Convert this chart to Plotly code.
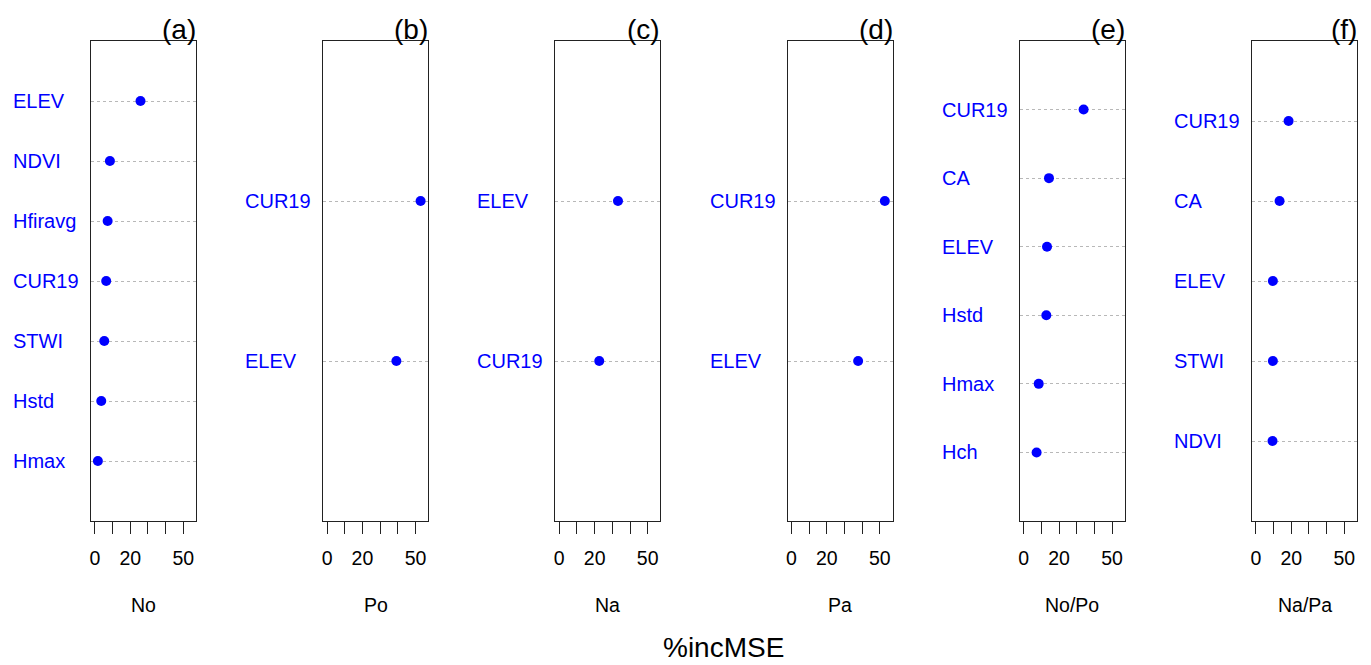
import plotly.graph_objects as go

W, H = 1371, 665

panel_tags = ["(a)", "(b)", "(c)", "(d)", "(e)", "(f)"]
panel_groups = ["No", "Po", "Na", "Pa", "No/Po", "Na/Pa"]

# variables listed top to bottom, %incMSE values
vars_a = ["ELEV", "NDVI", "Hfiravg", "CUR19", "STWI", "Hstd", "Hmax"]
vals_a = [25.8, 8.5, 7.2, 6.4, 5.3, 3.6, 1.7]
vars_b = ["CUR19", "ELEV"]
vals_b = [52.9, 39.2]
vars_c = ["ELEV", "CUR19"]
vals_c = [33.2, 22.6]
vars_d = ["CUR19", "ELEV"]
vals_d = [52.8, 37.7]
vars_e = ["CUR19", "CA", "ELEV", "Hstd", "Hmax", "Hch"]
vals_e = [33.9, 14.3, 13.2, 12.8, 8.5, 7.3]
vars_f = ["CUR19", "CA", "ELEV", "STWI", "NDVI"]
vals_f = [18.5, 13.4, 9.6, 9.6, 9.4]

x_ticks = [0, 10, 20, 30, 40, 50]
x_ticktext = ["0", "", "20", "", "", "50"]
x_range = [-2.2, 57.2]
overall_title = "%incMSE"

panels = [(vars_a, vals_a), (vars_b, vals_b), (vars_c, vals_c),
          (vars_d, vals_d), (vars_e, vals_e), (vars_f, vals_f)]

FONT = "Liberation Sans, Arial, sans-serif"
BLUE = "#0000FF"
LINE = "#222222"

box_left0 = 91.0
box_step = 232.2
box_w = 105.0
box_top, box_bot = 41.0, 521.0

fig = go.Figure()
annotations = []
layout_axes = {}

def px2x(px):
    return px / W

def py2y(py):
    return 1 - py / H

for i, (names, vals) in enumerate(panels):
    n = len(names)
    ys = [n - k for k in range(n)]
    L = box_left0 + box_step * i
    xa = "x" if i == 0 else f"x{i+1}"
    ya = "y" if i == 0 else f"y{i+1}"
    xkey = "xaxis" if i == 0 else f"xaxis{i+1}"
    ykey = "yaxis" if i == 0 else f"yaxis{i+1}"
    fig.add_trace(go.Scatter(
        x=vals, y=ys, mode="markers", xaxis=xa, yaxis=ya,
        marker=dict(color=BLUE, size=10, line=dict(width=0)),
        showlegend=False, hoverinfo="x+text", text=names,
    ))
    layout_axes[xkey] = dict(
        domain=[px2x(L), px2x(L + box_w)], anchor=ya, range=x_range,
        tickmode="array", tickvals=x_ticks, ticktext=x_ticktext,
        ticks="outside", ticklen=12, tickwidth=1, tickcolor=LINE,
        showline=True, linecolor=LINE, linewidth=1.3, mirror=True,
        showgrid=False, zeroline=False, ticklabelstandoff=7,
        automargin=False,
        tickfont=dict(family=FONT, size=19.5, color="black"),
    )
    layout_axes[ykey] = dict(
        domain=[py2y(box_bot), py2y(box_top)], anchor=xa, range=[0, n + 1],
        tickmode="array", tickvals=ys, showticklabels=False, ticks="",
        showgrid=True, gridcolor="#b8b8b8", griddash="dot", gridwidth=1,
        showline=True, linecolor=LINE, linewidth=1.3, mirror=True,
        zeroline=False, automargin=False,
    )
    for name, yv in zip(names, ys):
        annotations.append(dict(
            text=name, x=px2x(L - 80), xref="paper", xanchor="left",
            y=yv, yref=ya, yanchor="middle", showarrow=False,
            font=dict(family=FONT, size=20, color=BLUE),
        ))
    annotations.append(dict(
        text=panel_tags[i], x=px2x(L + box_w + 2), xref="paper", xanchor="right",
        y=py2y(29), yref="paper", yanchor="middle", showarrow=False,
        font=dict(family=FONT, size=28, color="black"),
    ))
    annotations.append(dict(
        text=panel_groups[i], x=px2x(L + box_w / 2), xref="paper", xanchor="center",
        y=py2y(605), yref="paper", yanchor="middle", showarrow=False,
        font=dict(family=FONT, size=19.5, color="black"),
    ))

annotations.append(dict(
    text=overall_title, x=px2x(723), xref="paper", xanchor="center",
    y=py2y(647), yref="paper", yanchor="middle", showarrow=False,
    font=dict(family=FONT, size=28, color="black"),
))

fig.update_layout(
    width=W, height=H, margin=dict(l=0, r=0, t=0, b=0, autoexpand=False),
    paper_bgcolor="white", plot_bgcolor="white",
    annotations=annotations, **layout_axes,
)

fig.write_html("out.html", config={"displayModeBar": False})
